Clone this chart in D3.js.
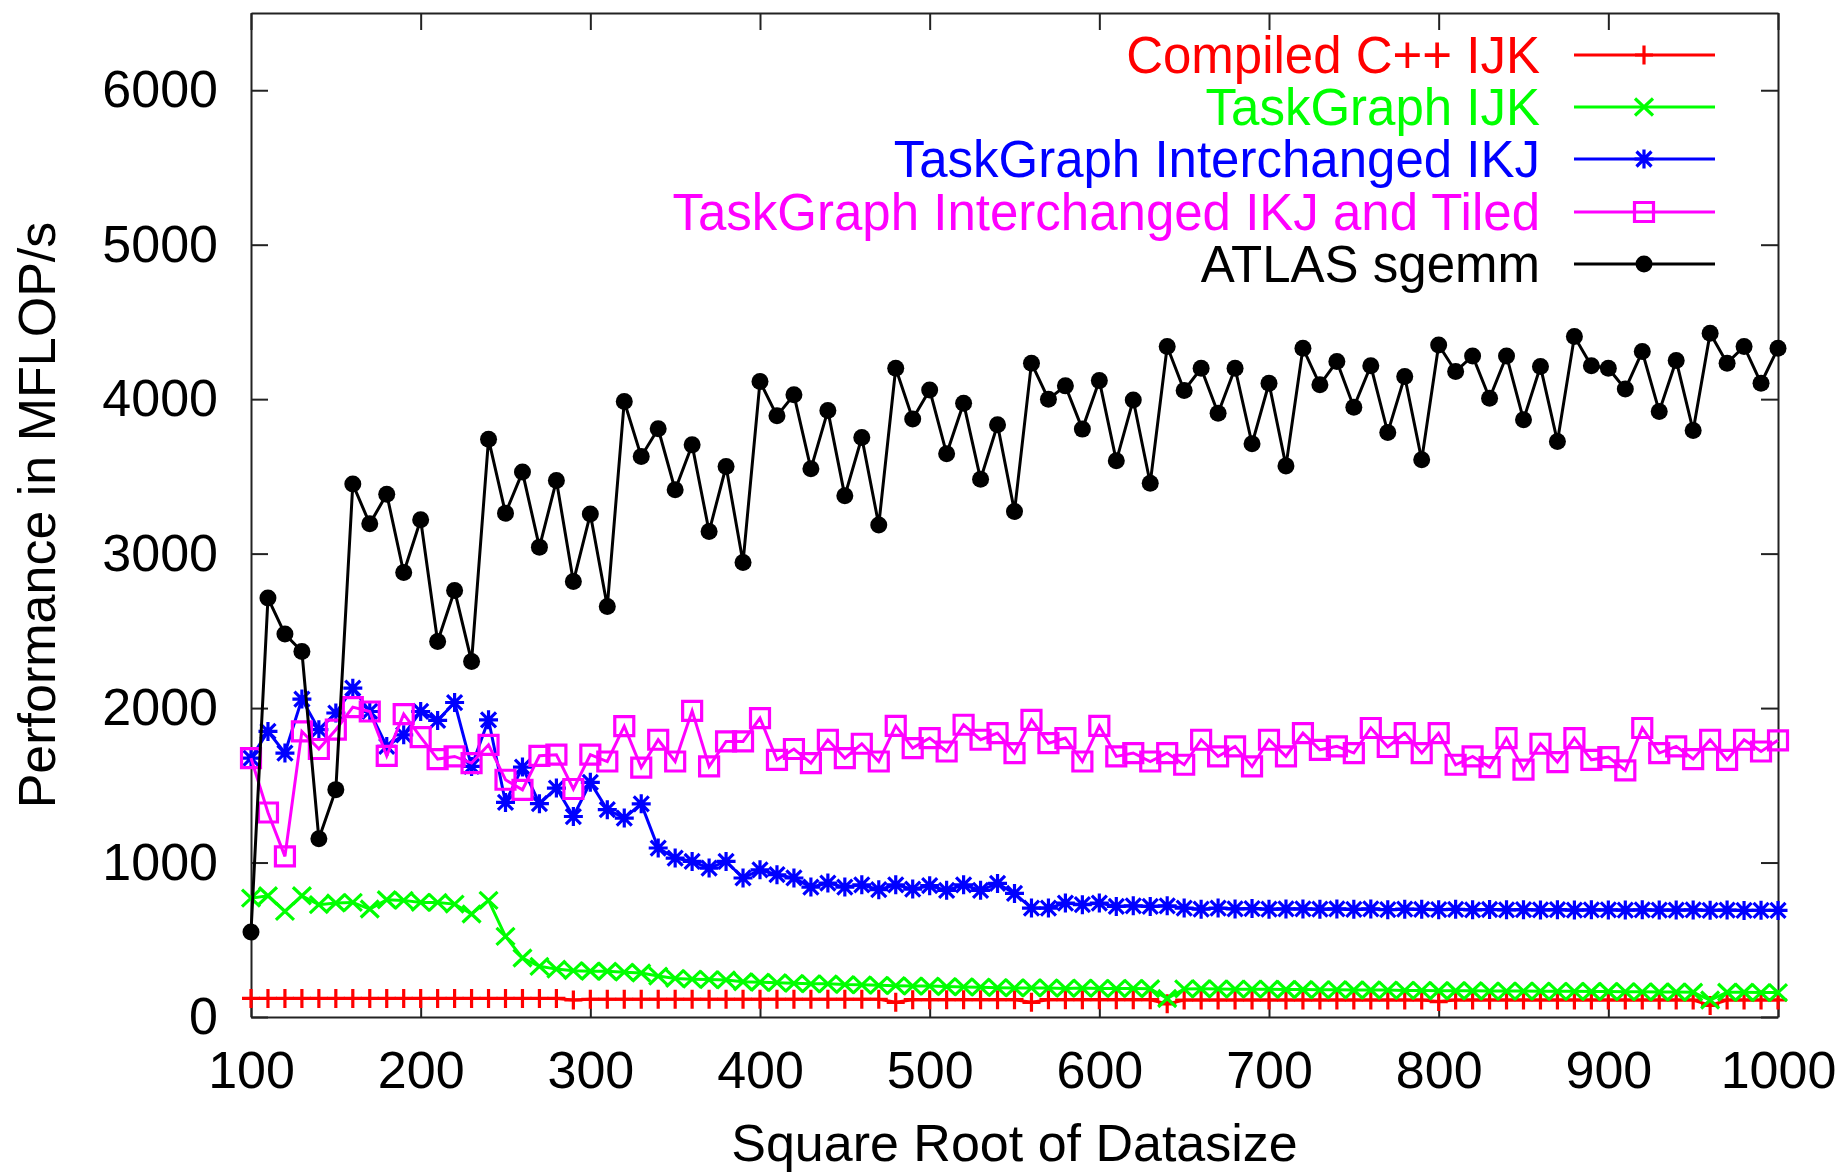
<!DOCTYPE html>
<html>
<head>
<meta charset="utf-8">
<script src="https://cdn.jsdelivr.net/npm/d3@7"></script>
<style>
body { margin: 0; background: #fff; }
svg { display: block; }
text { font-family: "Liberation Sans", Arial, sans-serif; }
</style>
</head>
<body>
<div id="chart"></div>
<script>
var sizes = [100, 110, 120, 130, 140, 150, 160, 170, 180, 190,
	200, 210, 220, 230, 240, 250, 260, 270, 280, 290,
	300, 310, 320, 330, 340, 350, 360, 370, 380, 390,
	400, 410, 420, 430, 440, 450, 460, 470, 480, 490,
	500, 510, 520, 530, 540, 550, 560, 570, 580, 590,
	600, 610, 620, 630, 640, 650, 660, 670, 680, 690,
	700, 710, 720, 730, 740, 750, 760, 770, 780, 790,
	800, 810, 820, 830, 840, 850, 860, 870, 880, 890,
	900, 910, 920, 930, 940, 950, 960, 970, 980, 990, 1000];

var compiledIJK = [120, 120, 120, 120, 120, 120, 120, 120, 120, 120,
	120, 120, 120, 120, 120, 120, 120, 120, 120, 110,
	115, 115, 115, 115, 115, 115, 115, 115, 115, 115,
	115, 115, 115, 115, 115, 115, 115, 115, 95, 112,
	112, 112, 112, 112, 112, 112, 95, 112, 112, 112,
	112, 112, 112, 112, 85, 110, 110, 110, 110, 110,
	110, 110, 110, 110, 110, 110, 110, 110, 110, 110,
	100, 110, 110, 110, 110, 110, 110, 110, 110, 110,
	110, 110, 110, 110, 110, 110, 75, 110, 110, 110, 110];

var taskgraphIJK = [770, 785, 684, 785, 727, 738, 742, 699, 759, 755,
	742, 742, 731, 667, 755, 522, 382, 328, 310, 300,
	296, 296, 290, 285, 265, 250, 245, 242, 240, 228,
	225, 222, 218, 215, 215, 210, 208, 205, 203, 200,
	200, 197, 195, 193, 190, 188, 188, 188, 185, 187,
	185, 184, 185, 183, 120, 182, 183, 182, 180, 180,
	180, 178, 178, 176, 177, 175, 175, 174, 172, 172,
	170, 170, 170, 168, 168, 168, 167, 166, 166, 165,
	165, 164, 163, 162, 162, 160, 110, 160, 160, 158, 158];

var taskgraphIKJ = [1676, 1849, 1709, 2058, 1860, 1968, 2129, 1978, 1752, 1827,
	1978, 1920, 2036, 1622, 1924, 1389, 1618, 1381, 1482, 1298,
	1519, 1342, 1288, 1380, 1094, 1029, 1007, 964, 1007, 900,
	953, 921, 900, 841, 867, 841, 856, 824, 856, 828,
	850, 820, 856, 820, 865, 800, 705, 705, 738, 727,
	738, 716, 720, 716, 720, 705, 698, 705, 700, 702,
	698, 700, 700, 698, 700, 697, 700, 695, 698, 697,
	695, 697, 694, 696, 694, 695, 693, 695, 692, 694,
	693, 692, 694, 692, 692, 693, 691, 692, 690, 691, 690];

var taskgraphTiled = [1676, 1324, 1040, 1849, 1735, 1860, 2006, 1978, 1691, 1961,
	1812, 1670, 1687, 1644, 1762, 1536, 1471, 1691, 1698, 1476,
	1698, 1654, 1883, 1615, 1795, 1654, 1982, 1622, 1784, 1784,
	1935, 1665, 1735, 1644, 1795, 1676, 1769, 1654, 1885, 1741,
	1806, 1719, 1892, 1795, 1838, 1709, 1924, 1773, 1806, 1654,
	1885, 1687, 1709, 1654, 1709, 1633, 1795, 1687, 1752, 1622,
	1795, 1687, 1838, 1730, 1752, 1709, 1871, 1748, 1838, 1709,
	1838, 1633, 1687, 1618, 1806, 1601, 1769, 1650, 1806, 1665,
	1683, 1597, 1871, 1709, 1752, 1670, 1795, 1665, 1795, 1719, 1791];

var atlasSgemm = [550, 2712, 2479, 2366, 1154, 1472, 3450, 3193, 3385, 2878,
	3219, 2431, 2761, 2302, 3741, 3262, 3528, 3042, 3473, 2819,
	3256, 2658, 3985, 3629, 3808, 3413, 3704, 3143, 3564, 2943,
	4114, 3892, 4028, 3549, 3926, 3374, 3752, 3186, 4200, 3872,
	4060, 3646, 3974, 3482, 3834, 3273, 4233, 4000, 4086, 3806,
	4120, 3601, 3995, 3456, 4341, 4056, 4200, 3909, 4200, 3711,
	4103, 3568, 4330, 4093, 4244, 3948, 4216, 3784, 4147, 3607,
	4351, 4179, 4280, 4006, 4280, 3867, 4211, 3726, 4405, 4216,
	4200, 4065, 4308, 3920, 4250, 3797, 4427, 4233, 4341, 4103, 4330];

var seriesNames = ["Compiled C++ IJK", "TaskGraph IJK", "TaskGraph Interchanged IKJ",
	"TaskGraph Interchanged IKJ and Tiled", "ATLAS sgemm"];
var seriesColors = ["#ff0000", "#00ff00", "#0000ff", "#ff00ff", "#000000"];
var seriesMarkers = ["plus", "times", "star", "square", "circle"];

var xTicks = [100, 200, 300, 400, 500, 600, 700, 800, 900, 1000];
var yTicks = [0, 1000, 2000, 3000, 4000, 5000, 6000];

function init() {
	var w = 1837;
	var h = 1172;
	var left = 251, right = 1778, top = 13, bottom = 1017;
	var fontSize = 52;
	var tick = 17;

	var allSeries = [compiledIJK, taskgraphIJK, taskgraphIKJ, taskgraphTiled, atlasSgemm];

	var xScale = d3.scaleLinear().domain([100, 1000]).range([left, right]);
	var yScale = d3.scaleLinear().domain([0, 6500]).range([bottom, top]);

	var svg = d3.select("#chart")
		.append("svg")
		.attr("width", w)
		.attr("height", h)
		.style("background", "#fff");

	// axes, ticks pointing inward, mirrored on top/right
	var xAxis = d3.axisBottom(xScale).tickValues(xTicks).tickFormat(d3.format("d"))
		.tickSizeInner(-tick).tickSizeOuter(0).tickPadding(34);
	var yAxis = d3.axisLeft(yScale).tickValues(yTicks).tickFormat(d3.format("d"))
		.tickSizeInner(-tick).tickSizeOuter(0).tickPadding(33);
	var xTop = d3.axisTop(xScale).tickValues(xTicks).tickSizeInner(-tick).tickSizeOuter(0).tickFormat("");
	var yRight = d3.axisRight(yScale).tickValues(yTicks).tickSizeInner(-tick).tickSizeOuter(0).tickFormat("");

	svg.append("g").attr("transform", "translate(0," + bottom + ")").call(xAxis);
	svg.append("g").attr("transform", "translate(" + left + ",0)").call(yAxis);
	svg.append("g").attr("transform", "translate(0," + top + ")").call(xTop);
	svg.append("g").attr("transform", "translate(" + right + ",0)").call(yRight);

	svg.selectAll(".domain").attr("stroke", "#222").attr("stroke-width", 2);
	svg.selectAll(".tick line").attr("stroke", "#222").attr("stroke-width", 2);
	svg.selectAll(".tick text").attr("font-size", fontSize).attr("fill", "#000")
		.style("font-family", "'Liberation Sans', Arial, sans-serif");

	// axis titles
	svg.append("text")
		.attr("x", (left + right) / 2)
		.attr("y", 1142)
		.attr("dy", "0.36em")
		.attr("text-anchor", "middle")
		.attr("font-size", fontSize)
		.text("Square Root of Datasize");

	svg.append("text")
		.attr("transform", "translate(36," + ((top + bottom) / 2) + ") rotate(-90)")
		.attr("dy", "0.36em")
		.attr("text-anchor", "middle")
		.attr("font-size", fontSize)
		.text("Performance in MFLOP/s");

	function markerPath(type) {
		if (type == "plus") return "M-9,0H9M0,-9.5V9.5";
		if (type == "times") return "M-9,-8.5L9,8.5M-9,8.5L9,-8.5";
		if (type == "star") return "M-9.5,0H9.5M0,-9.5V9.5M-7.5,-7.5L7.5,7.5M-7.5,7.5L7.5,-7.5";
		if (type == "square") return "M-9.5,-9.5H9.5V9.5H-9.5Z";
		return "";
	}

	function drawMarker(sel, type, color) {
		if (type == "circle") {
			sel.append("circle").attr("r", 8.5).attr("fill", color);
		} else {
			sel.append("path")
				.attr("d", markerPath(type))
				.attr("fill", "none")
				.attr("stroke", color)
				.attr("stroke-width", 3.2);
		}
	}

	var line = d3.line()
		.x(function(d, i) { return xScale(sizes[i]); })
		.y(function(d) { return yScale(d); });

	var rowY = [55, 107, 159, 212, 264];

	allSeries.forEach(function(values, k) {
		var color = seriesColors[k];
		var g = svg.append("g");

		g.append("path")
			.datum(values)
			.attr("d", line)
			.attr("fill", "none")
			.attr("stroke", color)
			.attr("stroke-width", 3)
			.attr("stroke-linejoin", "miter");

		g.selectAll("g.pt")
			.data(values)
			.enter()
			.append("g")
			.attr("class", "pt")
			.attr("transform", function(d, i) {
				return "translate(" + xScale(sizes[i]) + "," + yScale(d) + ")";
			})
			.each(function() { drawMarker(d3.select(this), seriesMarkers[k], color); });

		// legend entry
		var lg = svg.append("g");
		lg.append("text")
			.attr("x", 1540)
			.attr("y", rowY[k])
			.attr("dy", "0.36em")
			.attr("text-anchor", "end")
			.attr("font-size", 51)
			.attr("fill", color)
			.text(seriesNames[k]);
		lg.append("line")
			.attr("x1", 1574).attr("x2", 1715)
			.attr("y1", rowY[k]).attr("y2", rowY[k])
			.attr("stroke", color)
			.attr("stroke-width", 3);
		var m = lg.append("g").attr("transform", "translate(1644," + rowY[k] + ")");
		drawMarker(m, seriesMarkers[k], color);
	});
}

window.onload = init;
</script>
</body>
</html>
